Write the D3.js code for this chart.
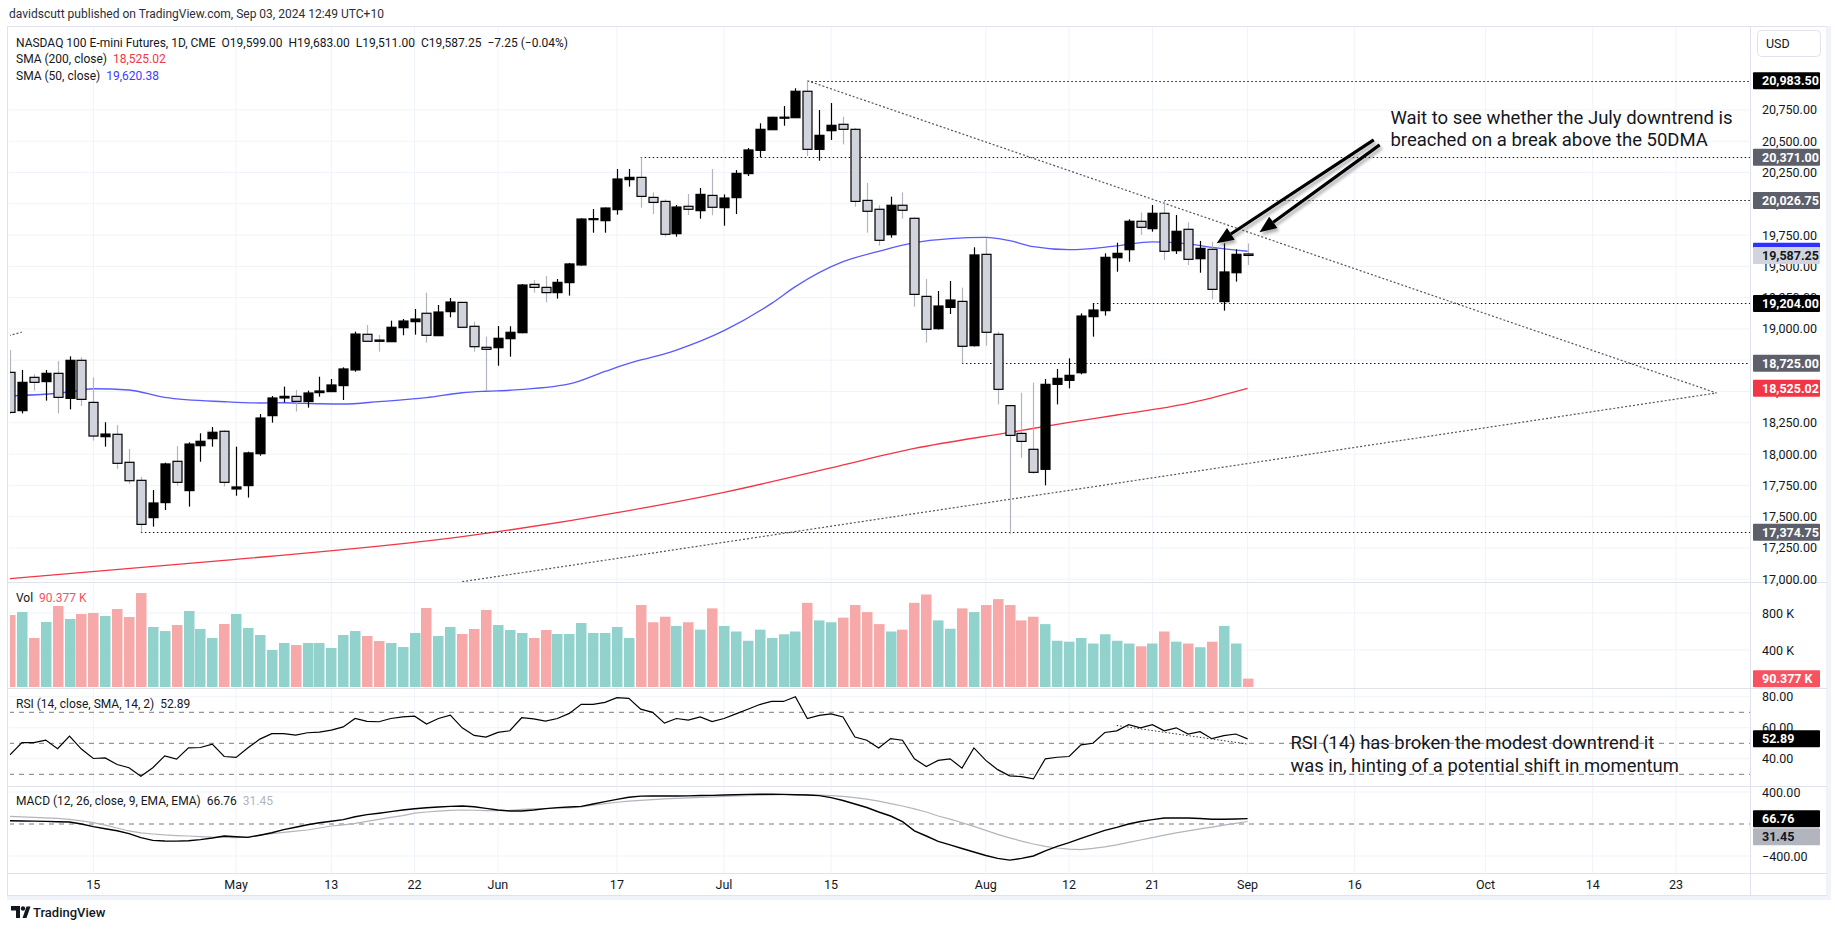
<!DOCTYPE html>
<html>
<head>
<meta charset="utf-8">
<script src="https://cdn.jsdelivr.net/npm/d3@7"></script>
<style>
  body { margin: 0; background: #fff; }
  text { font-family: Roboto, "Liberation Sans", sans-serif; fill: #131722; white-space: pre; }
</style>
</head>
<body>
<svg id="chart" width="1835" height="931"></svg>
<script>
// trading days shown (Apr 4 -> Sep 3, 2024)
const dates = [
  "2024-04-04","2024-04-05","2024-04-08","2024-04-09","2024-04-10","2024-04-11","2024-04-12",
  "2024-04-15","2024-04-16","2024-04-17","2024-04-18","2024-04-19","2024-04-22","2024-04-23","2024-04-24","2024-04-25","2024-04-26","2024-04-29","2024-04-30",
  "2024-05-01","2024-05-02","2024-05-03","2024-05-06","2024-05-07","2024-05-08","2024-05-09","2024-05-10","2024-05-13","2024-05-14","2024-05-15","2024-05-16","2024-05-17",
  "2024-05-20","2024-05-21","2024-05-22","2024-05-23","2024-05-24","2024-05-28","2024-05-29","2024-05-30","2024-05-31",
  "2024-06-03","2024-06-04","2024-06-05","2024-06-06","2024-06-07","2024-06-10","2024-06-11","2024-06-12","2024-06-13","2024-06-14",
  "2024-06-17","2024-06-18","2024-06-20","2024-06-21","2024-06-24","2024-06-25","2024-06-26","2024-06-27","2024-06-28",
  "2024-07-01","2024-07-02","2024-07-03","2024-07-05","2024-07-08","2024-07-09","2024-07-10","2024-07-11","2024-07-12",
  "2024-07-15","2024-07-16","2024-07-17","2024-07-18","2024-07-19","2024-07-22","2024-07-23","2024-07-24","2024-07-25","2024-07-26",
  "2024-07-29","2024-07-30","2024-07-31","2024-08-01","2024-08-02","2024-08-05","2024-08-06","2024-08-07","2024-08-08","2024-08-09",
  "2024-08-12","2024-08-13","2024-08-14","2024-08-15","2024-08-16","2024-08-19","2024-08-20","2024-08-21","2024-08-22","2024-08-23",
  "2024-08-26","2024-08-27","2024-08-28","2024-08-29","2024-08-30","2024-09-03"
];

const opens = [18653,18347,18613,18579,18645,18445,18749,
  18413,18139,18158,17934,17790,17492,17612,17942,17708,18067,18123,18182,
  17721,17748,18003,18307,18448,18461,18419,18491,18499,18547,18672,18957,18911,
  18898,19010,19058,19125,18946,19138,19212,19021,18853,
  18850,18922,18970,19356,19332,19290,19370,19511,19873,19865,
  19953,20193,20211,20051,20019,19761,19980,19945,20067,
  19969,20049,20241,20427,20592,20689,20688,20899,20435,
  20584,20635,20595,20027,19956,19753,19988,19884,19260,19002,
  19172,19220,18866,19596,18957,18387,18165,18038,17878,18557,
  18589,18650,19098,19146,19569,19633,19860,19801,19924,19625,
  19796,19561,19636,19218,19449,19599];
const highs = [18832,18672,18637,18672,18744,18781,18773,
  18613,18254,18232,18040,17819,17713,17931,18064,18094,18166,18216,18190,
  18059,18019,18320,18464,18539,18512,18507,18618,18600,18693,18978,19031,18951,
  19066,19079,19159,19290,19191,19247,19215,19058,18938,
  19023,19021,19359,19391,19423,19399,19527,19884,19958,19970,
  20278,20278,20371,20091,20035,19990,20078,20126,20278,
  20075,20270,20446,20643,20695,20781,20923,20983.5,20749,
  20805,20696,20606,20166,19988,20057,20091,19890,19399,19303,
  19383,19330,19652,19724,18978,18390,18490,18570,18600,18680,
  18765,19124,19204,19604,19689,19876,19932,19990,20026.75,19910,
  19852,19703,19695,19684,19636,19683];
const lows = [18320,18325,18507,18427,18325,18357,18384,
  18107,18059,17881,17761,17374.75,17420,17553,17747,17580,17939,18059,17740,
  17667,17652,17987,18251,18413,18339,18371,18459,18499,18432,18658,18901,18818,
  18898,18949,18954,18890,18946,19093,19010,18818,18504,
  18706,18778,18965,19290,19212,19242,19266,19505,19769,19769,
  19913,20137,19969,19918,19737,19737,19910,19881,19908,
  19825,19918,20222,20371,20590,20624,20685,20382,20344,
  20510,20475,19977,19769,19665,19729,19881,19178,18890,18995,
  19119,18725,18860,18866,18397,17360,17971,17841,17750,18397,
  18525,18637,18938,19106,19457,19537,19750,19777,19551,19599,
  19511,19449,19236,19146,19378,19511];
const closes = [18333,18573,18573,18645,18453,18749,18437,
  18144,18160,17926,17787,17438,17609,17921,17774,18080,18102,18174,17774,
  17737,18009,18288,18448,18461,18421,18488,18504,18552,18680,18959,18901,18901,
  19013,19063,19079,18949,19135,19215,19013,18858,18837,
  18925,18973,19351,19332,19290,19372,19519,19878,19881,19966,
  20198,20211,20059,20011,19756,19974,19956,20075,19972,
  20046,20243,20430,20595,20691,20692,20899,20435,20547,
  20627,20595,20019,19940,19708,19988,19948,19276,18997,19183,
  19231,18861,19591,18973,18517,18149,18101,17854,18557,18605,
  18629,19103,19151,19572,19604,19860,19812,19924,19620,19780,
  19556,19644,19316,19455,19596,19587.25];

// volume in thousands
const volumes = [778,811,530,703,876,735,789,
  800,768,843,757,1016,649,605,670,822,627,530,681,
  789,638,562,400,476,454,476,476,422,562,605,551,497,
  476,432,584,854,551,649,573,627,832,
  670,616,584,530,616,573,573,692,584,584,
  649,530,886,700,760,660,700,620,850,
  660,600,500,620,530,570,600,910,720,
  700,750,886,810,680,600,620,910,1000,720,
  630,850,810,886,950,886,720,760,680,500,
  490,530,470,570,500,470,440,470,600,490,
  470,430,490,660,470,90.377];

// moving averages read at sample bars: [date, value]
const sma50 = [["2024-04-04",18464],["2024-04-11",18496],["2024-04-15",18522],["2024-04-18",18512],["2024-04-23",18453],
  ["2024-04-30",18418],["2024-05-03",18408],["2024-05-07",18410],["2024-05-10",18402],["2024-05-14",18400],["2024-05-17",18419],
  ["2024-05-23",18451],["2024-05-29",18490],["2024-05-31",18502],["2024-06-04",18510],["2024-06-11",18560],["2024-06-14",18660],
  ["2024-06-18",18725],["2024-06-24",18800],["2024-06-25",18831],["2024-07-01",18986],["2024-07-08",19204],["2024-07-10",19338],
  ["2024-07-16",19537],["2024-07-19",19620],["2024-07-24",19689],["2024-07-29",19721],["2024-08-01",19732],["2024-08-05",19705],
  ["2024-08-07",19657],["2024-08-12",19633],["2024-08-16",19663],["2024-08-21",19695],["2024-08-26",19679],["2024-08-28",19652],["2024-09-03",19620.38]];
const sma200 = [["2024-04-04",17005],["2024-04-30",17150],["2024-05-29",17340],["2024-06-18",17548],["2024-07-01",17694],
  ["2024-07-15",17890],["2024-07-24",18045],["2024-08-05",18173],["2024-08-12",18253],["2024-08-16",18312],["2024-08-26",18405],["2024-09-03",18525.02]];

const rsi = [42.5,50.4,50.4,52.1,46.5,54.7,46.3,
  40.2,40.6,36.3,34.2,28.8,34.2,41.9,39.8,47.1,47.3,49.5,41.5,
  40.9,47.1,52.7,56.2,56.2,55.3,56.8,57.2,58.5,60.6,66.0,64.1,63.9,
  66.0,67.1,67.5,62.4,66.0,68.2,60.0,55.1,54.0,
  57.0,58.1,66.5,65.8,64.3,66.0,69.3,75.1,75.1,76.4,
  79.4,79,72,70,63,66,65,67,64,
  66,69,72,75,77,77,80,66,68,
  69,67,54,52,47,53,52,40,35,39,
  40,34,47,39,33,29,28.5,27,40,41,
  41.5,49,50,57,58,62,60,62,58,60,
  56,57.5,53,55,56,52.89];
const macd = [41,38,36,33,29,25,0,
  -33,-60,-85,-120,-170,-205,-212,-214,-210,-195,-175,-150,
  -160,-167,-140,-110,-70,-40,-10,15,35,55,90,117,135,
  155,175,190,204,212,220,225,215,196,
  175,162,162,175,192,205,212,220,250,280,
  308,335,348,352,350,350,352,356,358,
  362,366,370,372,372,370,366,362,355,
  330,294,250,206,150,100,30,-86,-150,-218,
  -260,-306,-350,-394,-430,-452,-430,-400,-335,-280,
  -233,-180,-130,-80,-42,0,31,55,75,75,
  75,68,60,60,62,66.76];
const signal = [96,90,82,76,70,58,40,
  17,-15,-50,-87,-110,-125,-137,-145,-150,-158,-165,-168,
  -171,-160,-140,-120,-105,-90,-75,-50,-25,-10,8,33,58,
  83,105,135,150,160,170,175,172,168,
  167,172,183,188,192,197,200,215,237,255,
  272,285,295,305,313,320,326,332,338,
  344,350,355,360,364,366,366,366,362,
  355,345,330,310,285,255,225,190,150,100,
  60,16,-30,-80,-130,-174,-215,-250,-280,-300,
  -315,-320,-305,-285,-260,-230,-200,-170,-140,-110,
  -85,-60,-38,-15,8,31.45];

// axis ticks
const tickDates = ["2024-04-15","2024-05-01","2024-05-13","2024-05-22","2024-06-03","2024-06-17","2024-07-01","2024-07-15",
  "2024-08-01","2024-08-12","2024-08-21","2024-09-03","2024-09-16","2024-10-01","2024-10-14","2024-10-23"];
const tickLabels = ["15","May","13","22","Jun","17","Jul","15","Aug","12","21","Sep","16","Oct","14","23"];
const priceTicks = d3.range(17000, 20751, 250);
const volTicks = [400, 800];
const rsiTicks = [40, 60, 80];
const rsiBands = [30, 50, 70];
const macdTicks = [-400, 400];

// horizontal levels and drawings: [from date, price]
const levels = [["2024-07-11",20983.5],["2024-06-20",20371],["2024-08-22",20026.75],["2024-08-14",19204],["2024-07-30",18725],["2024-04-19",17374.75]];
const downTrend = [["2024-07-11",20983.5],[136.4,18488]];
const upTrend = [[31.0,16980],[136.4,18488]];
const leftStub = [[-7.1,18945],[-6,18975]];
const rsiTrend = [["2024-08-16",61.5],["2024-09-03",49.5]];

// ---------- layout ----------
const svg = d3.select("#chart");
const plotL = 9, plotR = 1750, frameR = 1827;
const paneMain = [27, 582], paneVol = [582, 688], paneRsi = [688, 786], paneMacd = [786, 873];

// future trading days for axis positions
const holidays = new Set(["2024-09-02"]);
const calendar = dates.slice();
let cur = new Date("2024-09-03T12:00:00Z");
while (calendar.length < 160) {
  cur = new Date(cur.getTime() + 86400000);
  const dow = cur.getUTCDay();
  const s = cur.toISOString().slice(0, 10);
  if (dow !== 0 && dow !== 6 && !holidays.has(s)) calendar.push(s);
}
const idxOf = new Map(calendar.map((d, i) => [d, i]));
const pos = d => typeof d === "number" ? d + 7 : idxOf.get(d);

const x = d3.scaleLinear().domain([7, 104]).range([93.3, 1247.6]);
const yPrice = d3.scaleLinear().domain([17374.75, 20983.5]).range([532.3, 80.7]);
const yVol = d3.scaleLinear().domain([0, 800]).range([687, 613]);
const yRsi = d3.scaleLinear().domain([30, 70]).range([774.3, 712.3]);
const yMacd = d3.scaleLinear().domain([-400, 400]).range([856, 792]);

svg.append("rect").attr("width", 1835).attr("height", 931).attr("fill", "#fff");

// header
svg.append("text").attr("x", 9).attr("y", 18).style("font-size", "12px").style("fill", "#2a2e39")
  .text("davidscutt published on TradingView.com, Sep 03, 2024 12:49 UTC+10");

// frame
svg.append("rect").attr("x", 7.5).attr("y", 26.5).attr("width", frameR - 7.5).attr("height", 869)
  .attr("fill", "none").attr("stroke", "#e0e3eb");
svg.append("rect").attr("x", frameR).attr("y", 26).attr("width", 4).attr("height", 874).attr("fill", "#f0f3fa");
svg.append("rect").attr("x", 7).attr("y", 896).attr("width", frameR - 3).attr("height", 4).attr("fill", "#f0f3fa");

const defs = svg.append("defs");
[["clipMain", paneMain], ["clipVol", paneVol], ["clipRsi", paneRsi], ["clipMacd", paneMacd]].forEach(([id, p]) => {
  defs.append("clipPath").attr("id", id).append("rect")
    .attr("x", plotL + 1).attr("y", p[0]).attr("width", plotR - plotL - 1).attr("height", p[1] - p[0]);
});
const f = defs.append("filter").attr("id", "shadow").attr("x", "-20%").attr("y", "-20%").attr("width", "140%").attr("height", "140%");
f.append("feGaussianBlur").attr("stdDeviation", 1.5);

// grid
const grid = svg.append("g");
tickDates.forEach(d => {
  grid.append("line").attr("x1", x(pos(d))).attr("x2", x(pos(d))).attr("y1", paneMain[0]).attr("y2", paneMacd[1])
    .attr("stroke", "#f0f3fa");
});
const hGrid = (scale, vals) => vals.forEach(v => grid.append("line").attr("x1", plotL).attr("x2", plotR)
  .attr("y1", scale(v)).attr("y2", scale(v)).attr("stroke", "#f0f3fa"));
hGrid(yPrice, priceTicks);
hGrid(yVol, volTicks);
hGrid(yRsi, rsiTicks);
hGrid(yMacd, macdTicks);

// pane separators
[paneVol[0], paneRsi[0], paneMacd[0], paneMacd[1]].forEach(y => {
  svg.append("line").attr("x1", 8).attr("x2", frameR).attr("y1", y + 0.5).attr("y2", y + 0.5).attr("stroke", "#e0e3eb");
});
svg.append("line").attr("x1", plotR + 0.5).attr("x2", plotR + 0.5).attr("y1", 27).attr("y2", 896).attr("stroke", "#e0e3eb");

// ---------- main pane ----------
const main = svg.append("g").attr("clip-path", "url(#clipMain)");
const bars = dates.map((d, i) => ({ i, o: opens[i], h: highs[i], l: lows[i], c: closes[i], v: volumes[i] }));

const maLine = d3.line().x(d => x(pos(d[0]))).y(d => yPrice(d[1])).curve(d3.curveMonotoneX);
main.append("path").attr("d", maLine(sma200)).attr("fill", "none").attr("stroke", "#f23645").attr("stroke-width", 1.3);
main.append("path").attr("d", maLine(sma50)).attr("fill", "none").attr("stroke", "#3d3dff").attr("stroke-width", 1.3).attr("opacity", 0.85);

levels.forEach(([d, p]) => {
  main.append("line").attr("x1", x(pos(d))).attr("x2", plotR).attr("y1", Math.round(yPrice(p)) + 0.5).attr("y2", Math.round(yPrice(p)) + 0.5)
    .attr("stroke", "#131722").attr("stroke-dasharray", "1.5,2.5");
});
[downTrend, upTrend, leftStub].forEach(t => {
  main.append("line").attr("x1", x(pos(t[0][0]))).attr("y1", yPrice(t[0][1])).attr("x2", x(pos(t[1][0]))).attr("y2", yPrice(t[1][1]))
    .attr("stroke", "#555").attr("stroke-width", 1.2).attr("stroke-dasharray", "2,2");
});

const bw = 9;
const cg = main.selectAll("g.candle").data(bars).join("g").attr("class", "candle");
cg.append("line")
  .attr("x1", d => Math.round(x(d.i)) + 0.5).attr("x2", d => Math.round(x(d.i)) + 0.5)
  .attr("y1", d => yPrice(d.h)).attr("y2", d => yPrice(d.l))
  .attr("stroke", d => d.c >= d.o ? "#000" : "#b2b5be").attr("stroke-width", 1.2);
cg.append("rect")
  .attr("x", d => Math.round(x(d.i)) - bw / 2 + 0.5).attr("width", bw)
  .attr("y", d => yPrice(Math.max(d.o, d.c)))
  .attr("height", d => Math.max(1, yPrice(Math.min(d.o, d.c)) - yPrice(Math.max(d.o, d.c))))
  .attr("fill", d => d.c >= d.o ? "#000" : "#d1d4dc").attr("stroke", "#000").attr("stroke-width", 1.2);

// annotation arrows
const arrows = [[[107.6, 20511], [94.4, 19684]], [[108.1, 20471], [98.0, 19772]]];
function arrow(g, a, b, color) {
  const x1 = x(pos(a[0])), y1 = yPrice(a[1]), x2 = x(pos(b[0])), y2 = yPrice(b[1]);
  const ang = Math.atan2(y2 - y1, x2 - x1), L = 17, Wd = 7;
  const bx = x2 - L * Math.cos(ang), by = y2 - L * Math.sin(ang);
  g.append("line").attr("x1", x1).attr("y1", y1).attr("x2", bx).attr("y2", by).attr("stroke", color).attr("stroke-width", 3.2);
  g.append("path").attr("d", `M${x2},${y2}L${bx + Wd * Math.sin(ang)},${by - Wd * Math.cos(ang)}L${bx - Wd * Math.sin(ang)},${by + Wd * Math.cos(ang)}Z`)
    .attr("fill", color);
}
const shadowG = main.append("g").attr("filter", "url(#shadow)").attr("transform", "translate(2,3)").attr("opacity", 0.45);
arrows.forEach(a => arrow(shadowG, a[0], a[1], "#555"));
const arrowG = main.append("g");
arrows.forEach(a => arrow(arrowG, a[0], a[1], "#000"));

const note = main.append("text").attr("x", x(pos(109))).attr("y", yPrice(20637)).style("font-size", "18.5px");
note.append("tspan").text("Wait to see whether the July downtrend is");
note.append("tspan").attr("x", x(pos(109))).attr("dy", 22).text("breached on a break above the 50DMA");

// legend
const lg = svg.append("g").style("font-size", "12px");
lg.append("text").attr("x", 16).attr("y", 46.5).text("NASDAQ 100 E-mini Futures, 1D, CME  O19,599.00  H19,683.00  L19,511.00  C19,587.25  \u22127.25 (\u22120.04%)");
const l2 = lg.append("text").attr("x", 16).attr("y", 63);
l2.append("tspan").text("SMA (200, close)  ");
l2.append("tspan").style("fill", "#f23645").text("18,525.02");
const l3 = lg.append("text").attr("x", 16).attr("y", 79.5);
l3.append("tspan").text("SMA (50, close)  ");
l3.append("tspan").style("fill", "#3d3dff").text("19,620.38");

// ---------- volume ----------
const vol = svg.append("g").attr("clip-path", "url(#clipVol)");
vol.selectAll("rect").data(bars).join("rect")
  .attr("x", d => Math.round(x(d.i)) - 5).attr("width", 10.5)
  .attr("y", d => yVol(d.v)).attr("height", d => yVol(0) - yVol(d.v))
  .attr("fill", d => d.c >= d.o ? "#92d2cc" : "#f6a9a8");
const vl = svg.append("text").attr("x", 16).attr("y", 601.5).style("font-size", "12px");
vl.append("tspan").text("Vol  ");
vl.append("tspan").style("fill", "#f7525f").text("90.377 K");

// ---------- RSI ----------
const rg = svg.append("g").attr("clip-path", "url(#clipRsi)");
rsiBands.forEach(v => rg.append("line").attr("x1", plotL).attr("x2", plotR).attr("y1", yRsi(v)).attr("y2", yRsi(v))
  .attr("stroke", "#787b86").attr("stroke-dasharray", "5,5"));
rg.append("path").datum(rsi).attr("fill", "none").attr("stroke", "#000").attr("stroke-width", 1.2)
  .attr("d", d3.line().x((d, i) => x(i)).y(d => yRsi(d)));
rg.append("line").attr("x1", x(pos(rsiTrend[0][0]))).attr("y1", yRsi(rsiTrend[0][1])).attr("x2", x(pos(rsiTrend[1][0]))).attr("y2", yRsi(rsiTrend[1][1]))
  .attr("stroke", "#333").attr("stroke-dasharray", "1.5,2");
const rn = rg.append("text").attr("x", x(pos(100.6))).attr("y", yRsi(46.3)).style("font-size", "18.4px");
rn.append("tspan").text("RSI (14) has broken the modest downtrend it");
rn.append("tspan").attr("x", x(pos(100.6))).attr("dy", 23).text("was in, hinting of a potential shift in momentum");
const rl = svg.append("text").attr("x", 16).attr("y", 707.5).style("font-size", "12px");
rl.append("tspan").text("RSI (14, close, SMA, 14, 2)  ");
rl.append("tspan").text("52.89");

// ---------- MACD ----------
const mg = svg.append("g").attr("clip-path", "url(#clipMacd)");
mg.append("line").attr("x1", plotL).attr("x2", plotR).attr("y1", yMacd(0)).attr("y2", yMacd(0))
  .attr("stroke", "#787b86").attr("stroke-dasharray", "5,5");
mg.append("path").datum(signal).attr("fill", "none").attr("stroke", "#b2b5be").attr("stroke-width", 1.2)
  .attr("d", d3.line().x((d, i) => x(i)).y(d => yMacd(d)));
mg.append("path").datum(macd).attr("fill", "none").attr("stroke", "#000").attr("stroke-width", 1.4)
  .attr("d", d3.line().x((d, i) => x(i)).y(d => yMacd(d)));
const ml = svg.append("text").attr("x", 16).attr("y", 805).style("font-size", "12px");
ml.append("tspan").text("MACD (12, 26, close, 9, EMA, EMA)  ");
ml.append("tspan").text("66.76  ");
ml.append("tspan").style("fill", "#b2b5be").text("31.45");

// ---------- right axes ----------
function rightAxis(scale, ticks, fmt) {
  const g = svg.append("g").attr("transform", `translate(${plotR},0)`)
    .call(d3.axisRight(scale).tickValues(ticks).tickSize(0).tickPadding(12).tickFormat(fmt));
  g.select(".domain").remove();
  g.selectAll("text").style("font-size", "12.5px").style("font-family", "Roboto, 'Liberation Sans', sans-serif").attr("fill", "#131722");
}
const fmt2 = d3.format(",.2f");
const minus = s => s.replace("-", "\u2212");
rightAxis(yPrice, priceTicks, fmt2);
rightAxis(yVol, volTicks, d => d + " K");
rightAxis(yRsi, rsiTicks, d3.format(".2f"));
rightAxis(yMacd, macdTicks, d => minus(d3.format(".2f")(d)));

function tag(y, label, bg, fg) {
  svg.append("rect").attr("x", 1753).attr("y", y - 8.5).attr("width", 67).attr("height", 17).attr("fill", bg).attr("rx", 1);
  svg.append("text").attr("x", 1762).attr("y", y).attr("dy", "0.35em").style("font-size", "12.5px").style("font-weight", "bold")
    .style("fill", fg).text(label);
}
tag(yPrice(20983.5), "20,983.50", "#000", "#fff");
tag(yPrice(20371), "20,371.00", "#5d606b", "#fff");
tag(yPrice(20026.75), "20,026.75", "#5d606b", "#fff");
tag(yPrice(19620.38), "19,620.38", "#3030ff", "#fff");
tag(yPrice(19587.25), "19,587.25", "#d1d4dc", "#131722");
tag(yPrice(19204), "19,204.00", "#000", "#fff");
tag(yPrice(18725), "18,725.00", "#5d606b", "#fff");
tag(yPrice(18525.02), "18,525.02", "#f23645", "#fff");
tag(yPrice(17374.75), "17,374.75", "#5d606b", "#fff");
tag(yVol(90.377), "90.377 K", "#f7525f", "#fff");
tag(yRsi(52.89), "52.89", "#000", "#fff");
// MACD tags: stacked so they do not collide, as on the price scale
const macdTagY = yMacd(66.76);
tag(macdTagY, "66.76", "#000", "#fff");
tag(Math.max(yMacd(31.45), macdTagY + 18), "31.45", "#b2b5be", "#131722");

// USD box
svg.append("rect").attr("x", 1757.5).attr("y", 30.5).attr("width", 63).attr("height", 26).attr("rx", 4)
  .attr("fill", "#fff").attr("stroke", "#e0e3eb");
svg.append("text").attr("x", 1766).attr("y", 48).style("font-size", "12.5px").text("USD");

// ---------- bottom axis ----------
tickDates.forEach((d, k) => {
  svg.append("text").attr("x", x(pos(d))).attr("y", 889).attr("text-anchor", "middle").style("font-size", "12.5px").text(tickLabels[k]);
});

// logo
const logo = svg.append("g");
logo.append("path").attr("d", "M11,906h9v12h-4v-7.5h-5z").attr("fill", "#131722");
logo.append("circle").attr("cx", 23).attr("cy", 908.5).attr("r", 2.2).attr("fill", "#131722");
logo.append("path").attr("d", "M22.5,918l4,-11.5h4l-4,11.5z").attr("fill", "#131722");
svg.append("text").attr("x", 33).attr("y", 917).style("font-size", "13px").style("font-weight", "500").text("TradingView");
</script>
</body>
</html>
